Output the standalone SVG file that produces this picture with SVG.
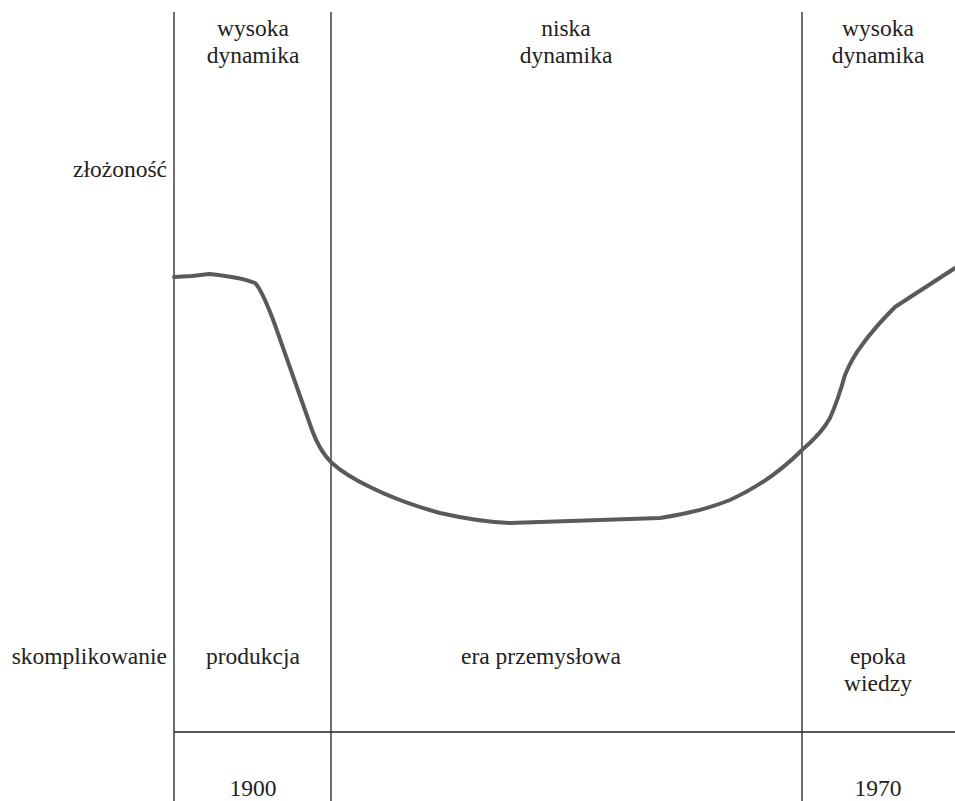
<svg xmlns="http://www.w3.org/2000/svg" width="955" height="801" viewBox="0 0 955 801">
<style>
text{font-family:'Liberation Serif','Times New Roman','DejaVu Serif',serif;font-size:23.5px;fill:#222}
.m{text-anchor:middle}
.e{text-anchor:end}
.ln{stroke:#222;stroke-width:1.3;fill:none}
.cv{stroke:#5a5a5a;stroke-width:4;fill:none;stroke-linejoin:round;stroke-linecap:round}
</style>
<rect width="955" height="801" fill="#fff"/>
<g id="grid">
<line class="ln" x1="174" y1="12" x2="174" y2="801"/>
<line class="ln" x1="331" y1="12" x2="331" y2="801"/>
<line class="ln" x1="802" y1="12" x2="802" y2="801"/>
<line class="ln" x1="174" y1="732" x2="955" y2="732"/>
</g>
<g id="curve">
<path class="cv" d="M174,277 L192,276 L209,274 Q240,277 255,283 Q262,290 275,325 L312,430 Q320,452 332,463 Q345,475 370,487 Q400,502 440,513 Q480,522 510,523 L600,520 L660,518 Q700,512 730,500 Q770,482 802,450 Q822,433 830,418 Q838,400 845,375 Q852,358 862,345 Q875,327 895,307 L955,268"/>
</g>
<g id="labels-top">
<text class="m" x="253" y="36">wysoka</text>
<text class="m" x="253" y="63">dynamika</text>
<text class="m" x="566" y="36">niska</text>
<text class="m" x="566" y="63">dynamika</text>
<text class="m" x="878" y="36">wysoka</text>
<text class="m" x="878" y="63">dynamika</text>
</g>
<g id="labels-left">
<text class="e" x="167" y="177">złożoność</text>
<text class="e" x="167" y="664">skomplikowanie</text>
</g>
<g id="labels-bottom">
<text class="m" x="253" y="664">produkcja</text>
<text class="m" x="541" y="664">era przemysłowa</text>
<text class="m" x="878" y="664">epoka</text>
<text class="m" x="878" y="691">wiedzy</text>
<text class="m" x="253" y="796">1900</text>
<text class="m" x="878" y="796">1970</text>
</g>
</svg>
